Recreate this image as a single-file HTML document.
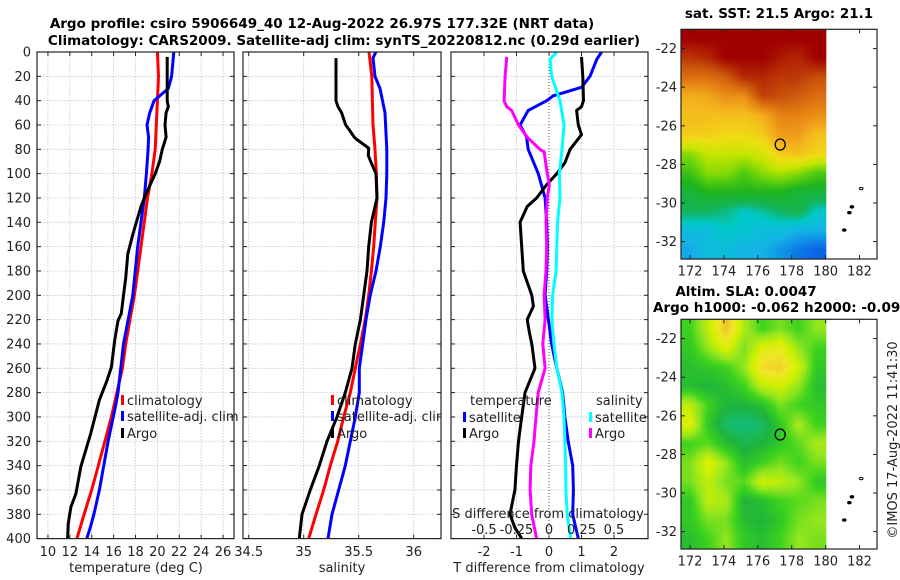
<!DOCTYPE html>
<html><head><meta charset="utf-8"><style>
html,body{margin:0;padding:0;background:#fff;}
svg{display:block;font-family:"DejaVu Sans","Liberation Sans",sans-serif;}
</style></head><body>
<svg id="fig" width="900" height="580" viewBox="0 0 900 580" xmlns="http://www.w3.org/2000/svg">
<text x="322" y="28" font-size="13.5" font-weight="bold" text-anchor="middle">Argo profile: csiro 5906649_40 12-Aug-2022 26.97S 177.32E (NRT data)</text>
<text x="344" y="45" font-size="13.5" font-weight="bold" text-anchor="middle">Climatology: CARS2009. Satellite-adj clim: synTS_20220812.nc (0.29d earlier)</text>
<g id="plots"></g>
<text x="779" y="18" font-size="13.5" font-weight="bold" text-anchor="middle">sat. SST: 21.5 Argo: 21.1</text>
<text x="746" y="296" font-size="13.5" font-weight="bold" text-anchor="middle">Altim. SLA: 0.0047</text>
<text x="653" y="312" font-size="13.5" font-weight="bold">Argo h1000: -0.062 h2000: -0.097</text>
<text transform="translate(897,440) rotate(-90)" font-size="13" text-anchor="middle" fill="#222">©IMOS 17-Aug-2022 11:41:30</text>
</svg>
<script>
// ---- Panel 1: temperature ----
const tClimDepth=[0,20,40,60,80,100,120,140,160,180,200,220,240,260,280,300,320,340,360,380,400];
const tClimVal=[20.0,20.1,20.0,19.9,19.8,19.5,19.1,18.8,18.5,18.2,17.9,17.5,17.1,16.8,16.3,15.8,15.2,14.6,14.0,13.3,12.65];
const tSatDepth=[0,20,30,40,50,60,70,80,100,120,160,200,240,280,290,320,360,380,390,400];
const tSatVal=[21.5,21.3,21.0,19.7,19.3,19.05,19.2,19.15,19.0,18.8,18.2,17.75,16.9,16.4,16.2,15.5,14.7,14.2,13.9,13.55];
const tArgoDepth=[4,20,40,45,50,60,70,80,90,100,110,120,127,150,166,186,200,215,221,237,259,270,286,314,341,363,374,388,400];
const tArgoVal=[20.9,20.9,20.9,21.0,20.8,20.7,20.8,20.45,20.2,19.8,19.3,18.8,18.5,17.75,17.3,17.1,16.9,16.7,16.4,16.1,15.8,15.4,14.7,13.9,13.0,12.55,12.1,11.85,11.8];
const tTicks=[10,12,14,16,18,20,22,24,26];
// ---- Panel 2: salinity ----
const sClimDepth=[0,20,60,80,100,120,140,160,180,200,220,240,260,280,300,320,340,360,380,400];
const sClimVal=[35.594,35.619,35.63,35.648,35.66,35.666,35.651,35.636,35.615,35.591,35.56,35.515,35.469,35.424,35.364,35.309,35.242,35.182,35.112,35.045];
const sSatDepth=[0,5,20,30,50,80,100,120,140,160,180,200,220,240,260,280,300,320,340,360,380,400];
const sSatVal=[35.655,35.63,35.648,35.694,35.739,35.755,35.755,35.748,35.727,35.696,35.657,35.605,35.566,35.536,35.505,35.505,35.469,35.424,35.378,35.318,35.257,35.221];
const sArgoDepth=[5,40,45,50,60,64,70,72,79,85,90,100,120,140,160,180,200,220,240,260,280,300,320,340,360,380,400];
const sArgoVal=[35.294,35.294,35.312,35.345,35.382,35.415,35.46,35.485,35.591,35.587,35.609,35.657,35.666,35.615,35.591,35.575,35.545,35.515,35.469,35.439,35.378,35.303,35.212,35.142,35.06,34.985,34.96];
const sTicks=[34.5,35,35.5,36];
const sTickLabels=["34.5","35","35.5","36"];
// ---- Panel 3: differences ----
const dTSatDepth=[0,6,20,29,36,40,48,60,70,80,100,120,140,160,180,200,220,240,260,280,300,320,340,360,380,400];
const dTSatVal=[1.62,1.47,1.26,1.0,0.13,-0.07,-0.64,-0.89,-0.69,-0.64,-0.33,-0.12,-0.07,-0.05,-0.07,-0.12,-0.02,0.08,0.24,0.42,0.49,0.59,0.73,0.75,0.73,0.9];
const dTArgoDepth=[4,20,40,45,48,60,68,80,91,100,109,120,127,140,160,180,200,209,220,231,240,260,280,300,320,340,360,380,391,400];
const dTArgoVal=[1.0,1.04,1.06,1.0,0.85,0.9,1.0,0.65,0.49,0.24,-0.07,-0.38,-0.67,-0.89,-0.84,-0.79,-0.53,-0.48,-0.67,-0.6,-0.53,-0.43,-0.74,-0.84,-0.94,-1.0,-1.05,-1.2,-1.05,-0.84];
const dSSatDepth=[0,6,20,40,60,80,100,120,140,160,180,200,220,240,260,280,300,320,340,360,380,400];
const dSSatVal=[0.06,0.008,0.02,0.085,0.115,0.1,0.08,0.085,0.065,0.06,0.055,0.028,0.022,0.038,0.06,0.1,0.115,0.122,0.128,0.13,0.14,0.168];
const dSArgoDepth=[4,20,40,45,48,60,70,80,82,100,109,120,140,160,180,200,220,240,260,280,300,320,340,360,380,400];
const dSArgoVal=[-0.325,-0.338,-0.345,-0.325,-0.288,-0.235,-0.168,-0.07,-0.038,-0.013,0.003,-0.013,-0.023,-0.018,-0.023,-0.038,-0.03,-0.048,-0.03,-0.083,-0.1,-0.115,-0.14,-0.145,-0.133,-0.095];
const dTTicks=[-2,-1,0,1,2];
const dSTicks=[-0.5,-0.25,0,0.25,0.5];
const dSTickLabels=["-0.5","-0.25","0","0.25","0.5"];
const depthTicks=[0,20,40,60,80,100,120,140,160,180,200,220,240,260,280,300,320,340,360,380,400];
// ---- Maps (8 lon cols x 12 lat rows, normalised colour index) ----
const sstGrid=[
[1,1,1,1,1,1,1,1],
[0.93,0.95,1,1,1,0.97,0.95,1],
[0.85,0.85,0.88,0.95,0.95,0.93,0.93,0.9],
[0.75,0.76,0.8,0.8,0.92,0.9,0.88,0.85],
[0.72,0.72,0.72,0.72,0.75,0.82,0.82,0.8],
[0.7,0.7,0.68,0.68,0.7,0.78,0.78,0.72],
[0.55,0.6,0.6,0.6,0.62,0.7,0.72,0.68],
[0.48,0.55,0.55,0.5,0.55,0.58,0.55,0.5],
[0.42,0.45,0.45,0.45,0.45,0.45,0.42,0.42],
[0.38,0.38,0.36,0.33,0.35,0.38,0.4,0.33],
[0.3,0.3,0.33,0.32,0.3,0.3,0.28,0.28],
[0.27,0.3,0.3,0.28,0.28,0.25,0.22,0.2]];
const slaGrid=[
[0.35,0.6,0.95,0.55,0.35,0.45,0.35,0.5],
[0.3,0.5,0.7,0.45,0.7,0.75,0.5,0.35],
[0.25,0.3,0.35,0.5,0.85,0.9,0.65,0.3],
[0.25,0.2,0.25,0.35,0.6,0.65,0.5,0.25],
[0.6,0.35,0.2,0.2,0.25,0.45,0.35,0.3],
[0.7,0.3,0.1,0.05,0.1,0.3,0.55,0.35],
[0.35,0.4,0.25,0.15,0.2,0.3,0.4,0.55],
[0.45,0.7,0.5,0.25,0.35,0.45,0.35,0.45],
[0.45,0.6,0.45,0.4,0.65,0.6,0.5,0.3],
[0.3,0.6,0.55,0.2,0.25,0.35,0.4,0.45],
[0.3,0.45,0.45,0.25,0.2,0.3,0.45,0.5],
[0.25,0.35,0.5,0.3,0.25,0.35,0.5,0.45]];
const lonTicks=[172,174,176,178,180,182];
const latTicks=[-22,-24,-26,-28,-30,-32];
const argoLon=177.32, argoLat=-26.97;
const islandLon=[182.1,181.55,181.4,181.1];
const islandLat=[-29.25,-30.2,-30.5,-31.4];

const NS='http://www.w3.org/2000/svg';
const root=document.getElementById('plots');
function mk(tag,attrs,parent){const e=document.createElementNS(NS,tag);for(const k in attrs)e.setAttribute(k,attrs[k]);(parent||root).appendChild(e);return e;}
const TOP=52,BOT=538.6;
function yD(d){return TOP+d*(BOT-TOP)/400;}
function lin(d0,d1,r0,r1){return v=>r0+(v-d0)*(r1-r0)/(d1-d0);}

function panel(name,x0,x1,xScale,ticks,labels,gridTicks){
  const g=mk('g',{});
  
  
  gridTicks.forEach(t=>{const l=mk('line',{x1:xScale(t),x2:xScale(t),y1:TOP,y2:BOT,stroke:'#b8c4dc','stroke-width':0.8,'stroke-dasharray':'1.5,1.5'},g);});
  depthTicks.forEach(d=>{const l=mk('line',{x1:x0,x2:x1,y1:yD(d),y2:yD(d),stroke:'#b8c4dc','stroke-width':0.8,'stroke-dasharray':'1.5,1.5'},g);
    mk('line',{x1:x0,x2:x0+4,y1:yD(d),y2:yD(d),stroke:'#222'},g);mk('line',{x1:x1,x2:x1-4,y1:yD(d),y2:yD(d),stroke:'#222'},g);});
  ticks.forEach((t,i)=>{const x=xScale(t);mk('line',{x1:x,x2:x,y1:BOT,y2:BOT-4,stroke:'#222'},g);mk('line',{x1:x,x2:x,y1:TOP,y2:TOP+4,stroke:'#222'},g);
    const tx=mk('text',{x:x,y:556,'font-size':13,'text-anchor':'middle',fill:'#222'},g);tx.textContent=labels[i];
    });
  return g;
}
function series(g,name,depths,vals,xs,color){
  const p=mk('polyline',{points:depths.map((d,i)=>xs(vals[i]).toFixed(1)+','+yD(d).toFixed(1)).join(' '),fill:'none',stroke:color,'stroke-width':3,'stroke-linejoin':'round'},g);
  
  
}
function frame(g,x0,x1){mk('rect',{x:x0,y:TOP,width:x1-x0,height:BOT-TOP,fill:'none',stroke:'#222','stroke-width':1.2},g);}
function legendItem(g,name,x,y,color,label){
  mk('rect',{x:x,y:y-10,width:3,height:10,fill:color},g);
  const t=mk('text',{x:x+6,y:y,'font-size':13,fill:'#222'},g);t.textContent=label;
  
  
}

// y tick labels (left of panel 1)
depthTicks.forEach(d=>{const t=mk('text',{x:31,y:yD(d)+4.5,'font-size':13,'text-anchor':'end',fill:'#222'});t.textContent=String(d);
  
  });

// Panel 1
const xT=lin(9,27,37,234);
const g1=panel('temperature-panel',37,234,xT,tTicks,tTicks.map(String),tTicks);
series(g1,'temp-climatology-line',tClimDepth,tClimVal,xT,'#ff0000');
series(g1,'temp-satellite-line',tSatDepth,tSatVal,xT,'#0000ff');
series(g1,'temp-argo-line',tArgoDepth,tArgoVal,xT,'#000000');
frame(g1,37,234);
legendItem(g1,'legend-climatology',121,405,'#ff0000','climatology');
legendItem(g1,'legend-satellite-adj',121,421,'#0000ff','satellite-adj. clim');
legendItem(g1,'legend-argo',121,438,'#000000','Argo');
let lab=mk('text',{x:136,y:572,'font-size':13,'text-anchor':'middle',fill:'#222'},g1);lab.textContent='temperature (deg C)';


// Panel 2
const xS=lin(35,35.5,303.7,358.7);
const g2=panel('salinity-panel',243,441,xS,sTicks,sTickLabels,sTicks);
series(g2,'sal-climatology-line',sClimDepth,sClimVal,xS,'#ff0000');
series(g2,'sal-satellite-line',sSatDepth,sSatVal,xS,'#0000ff');
series(g2,'sal-argo-line',sArgoDepth,sArgoVal,xS,'#000000');
frame(g2,243,441);
const cp=mk('clipPath',{id:'cp2'});mk('rect',{x:243,y:0,width:198,height:580},cp);
const lg2=mk('g',{'clip-path':'url(#cp2)'},g2);
legendItem(lg2,'legend-climatology',331,405,'#ff0000','climatology');
legendItem(lg2,'legend-satellite-adj',331,421,'#0000ff','satellite-adj. clim');
legendItem(lg2,'legend-argo',331,438,'#000000','Argo');
lab=mk('text',{x:342,y:572,'font-size':13,'text-anchor':'middle',fill:'#222'},g2);lab.textContent='salinity';


// Panel 3
const xDT=lin(0,1,549,581.5);
const xDS=lin(0,0.25,549,581.5);
const g3=panel('difference-panel',451,648,xDT,dTTicks,dTTicks.map(String),[-2,-1,1,2]);
mk('line',{x1:549,x2:549,y1:TOP,y2:BOT,stroke:'#555','stroke-width':1,'stroke-dasharray':'1,2'},g3);
series(g3,'dT-satellite-line',dTSatDepth,dTSatVal,xDT,'#0000ff');
series(g3,'dT-argo-line',dTArgoDepth,dTArgoVal,xDT,'#000000');
series(g3,'dS-satellite-line',dSSatDepth,dSSatVal,xDS,'#00ffff');
series(g3,'dS-argo-line',dSArgoDepth,dSArgoVal,xDS,'#ff00ff');
frame(g3,451,648);
lab=mk('text',{x:470,y:405,'font-size':13,fill:'#222'},g3);lab.textContent='temperature';

lab=mk('text',{x:596,y:405,'font-size':13,fill:'#222'},g3);lab.textContent='salinity';

legendItem(g3,'legend-t-satellite',463,422,'#0000ff','satellite');
legendItem(g3,'legend-t-argo',463,438,'#000000','Argo');
legendItem(g3,'legend-s-satellite',589,422,'#00ffff','satellite');
legendItem(g3,'legend-s-argo',589,438,'#ff00ff','Argo');
lab=mk('text',{x:548,y:518,'font-size':13,'text-anchor':'middle',fill:'#222'},g3);lab.textContent='S difference from climatology';

dSTicks.forEach((t,i)=>{const tx=mk('text',{x:xDS(t),y:534,'font-size':13,'text-anchor':'middle',fill:'#222'},g3);tx.textContent=dSTickLabels[i];
  });
lab=mk('text',{x:549,y:572,'font-size':13,'text-anchor':'middle',fill:'#222'},g3);lab.textContent='T difference from climatology';


// Maps
function cmap(stops,v){for(let i=1;i<stops.length;i++){if(v<=stops[i][0]){const a=stops[i-1],b=stops[i];const f=(v-a[0])/(b[0]-a[0]);
  return 'rgb('+[0,1,2].map(k=>Math.round(a[1][k]+(b[1][k]-a[1][k])*Math.max(0,Math.min(1,f)))).join(',')+')';}}
  const l=stops[stops.length-1][1];return 'rgb('+l.join(',')+')';}
const sstStops=[[0.2,[10,100,230]],[0.28,[20,180,230]],[0.33,[0,200,200]],[0.38,[20,180,90]],[0.45,[30,180,30]],[0.52,[100,210,10]],[0.6,[200,230,0]],[0.67,[240,220,20]],[0.74,[245,180,30]],[0.82,[230,130,20]],[0.9,[200,80,10]],[1.0,[160,0,0]]];
const slaStops=[[0,[16,192,144]],[0.2,[30,180,60]],[0.35,[60,210,30]],[0.5,[150,230,30]],[0.65,[210,240,0]],[0.8,[240,230,40]],[1.0,[240,180,40]]];
function drawMap(name,grid,stops,top){
  const L0=171.47,L1=183.03,lat0=-21.0,lat1=-32.9;
  const X=lin(L0,L1,681,877), Y=lin(lat0,lat1,top,top+229.7);
  const g=mk('g',{});
  
  
  const nc=grid[0].length,nr=grid.length,cw=(180-L0)/nc,rh=(lat0-lat1)/nr;
  const st=2.5;
  for(let py=top;py<top+229.7;py+=st){for(let px=681;px<826;px+=st){
    const lon=L0+(px+st/2-681)*(L1-L0)/196, lat=lat0-(py+st/2-top)*(lat0-lat1)/229.7;
    let fi=(lon-L0)/cw-0.5, fj=(lat0-lat)/rh-0.5;
    fi=Math.max(0,Math.min(nc-1,fi));fj=Math.max(0,Math.min(nr-1,fj));
    const i0=Math.floor(fi),j0=Math.floor(fj),i1=Math.min(nc-1,i0+1),j1=Math.min(nr-1,j0+1),a=fi-i0,b=fj-j0;
    const v=grid[j0][i0]*(1-a)*(1-b)+grid[j0][i1]*a*(1-b)+grid[j1][i0]*(1-a)*b+grid[j1][i1]*a*b;
    mk('rect',{x:px,y:py,width:st+0.3,height:st+0.3,fill:cmap(stops,v)},g);
  }}
  islandLon.forEach((lo,i)=>{const e=mk('ellipse',{cx:X(lo),cy:Y(islandLat[i]),rx:1.8,ry:1.2,fill:i==0?'none':'#000',stroke:'#000','stroke-width':1},g);
    });
  const c=mk('ellipse',{cx:X(argoLon),cy:Y(argoLat),rx:5,ry:5.5,fill:'none',stroke:'#000','stroke-width':1.3},g);
  
  mk('rect',{x:681,y:top,width:196,height:229.7,fill:'none',stroke:'#222','stroke-width':1.2},g);
  lonTicks.forEach(t=>{mk('line',{x1:X(t),x2:X(t),y1:top+229.7,y2:top+225.7,stroke:'#222'},g);mk('line',{x1:X(t),x2:X(t),y1:top,y2:top+4,stroke:'#222'},g);
    const tx=mk('text',{x:X(t),y:top+246,'font-size':13,'text-anchor':'middle',fill:'#222'},g);tx.textContent=String(t);
    });
  latTicks.forEach(t=>{mk('line',{x1:681,x2:685,y1:Y(t),y2:Y(t),stroke:'#222'},g);mk('line',{x1:877,x2:873,y1:Y(t),y2:Y(t),stroke:'#222'},g);
    const tx=mk('text',{x:677,y:Y(t)+4.5,'font-size':13,'text-anchor':'end',fill:'#222'},g);tx.textContent=String(t);
    });
}
drawMap('sst-map',sstGrid,sstStops,29.3);
drawMap('sla-map',slaGrid,slaStops,319.3);
</script>
</body></html>
